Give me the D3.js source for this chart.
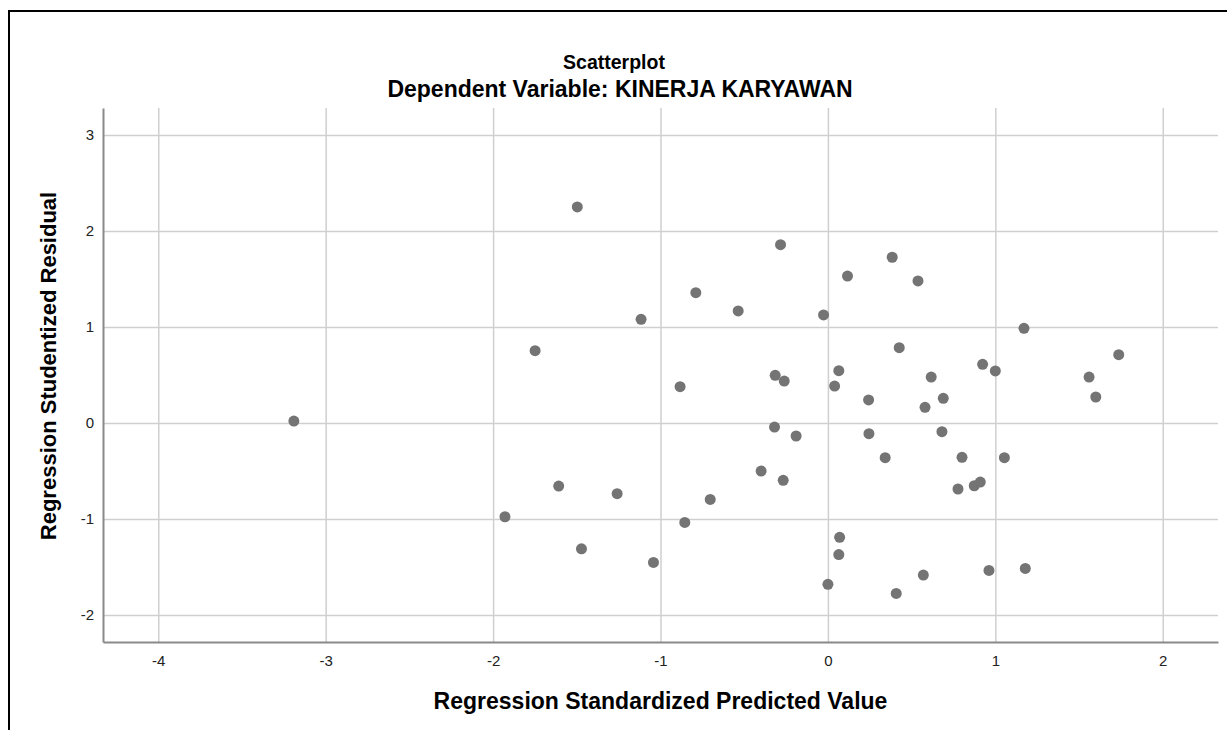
<!DOCTYPE html>
<html>
<head>
<meta charset="utf-8">
<script src="https://cdn.jsdelivr.net/npm/d3@7"></script>
<style>
    body { margin: 0; background: #fff; }
    text { font-family: Arial, "Liberation Sans", Helvetica, sans-serif; }
</style>
</head>
<body>
<div id="chart"></div>
<script>

// predicted value (x) and studentized residual (y)
const predicted = [-3.19, -1.497, -1.749, -1.116, -0.789, -0.536, -0.026, -0.283, -0.883, -0.315,
    -0.261, 0.040, 0.065, -0.319, -0.19, -0.399, -0.267, -0.703, -1.259, -1.608,
    -1.929, -0.855, -1.472, -1.042, 0.07, 0.065, 0.0, 1.171, 0.426, 1.737,
    0.924, 1.0, 0.617, 1.56, 0.243, 0.689, 0.58, 1.60, 0.245, 0.681,
    0.342, 0.801, 1.054, 0.777, 0.874, 0.910, 0.408, 0.570, 0.962, 1.179,
    0.117, 0.384, 0.538];
const residual = [0.02, 2.25, 0.753, 1.08, 1.357, 1.167, 1.125, 1.857, 0.378, 0.497,
    0.437, 0.385, 0.545, -0.042, -0.135, -0.5, -0.597, -0.795, -0.736, -0.656,
    -0.976, -1.035, -1.31, -1.451, -1.19, -1.37, -1.68, 0.986, 0.785, 0.712,
    0.611, 0.542, 0.479, 0.479, 0.24, 0.257, 0.163, 0.271, -0.111, -0.090,
    -0.361, -0.357, -0.361, -0.687, -0.653, -0.615, -1.774, -1.583, -1.535, -1.514,
    1.53, 1.726, 1.479];

const xTicks = [-4, -3, -2, -1, 0, 1, 2];
const yTicks = [-2, -1, 0, 1, 2, 3];
const xDomain = [-4.33, 2.33];
const yDomain = [-2.28, 3.28];

const titleText = "Scatterplot";
const subtitleText = "Dependent Variable: KINERJA KARYAWAN";
const xLabel = "Regression Standardized Predicted Value";
const yLabel = "Regression Studentized Residual";

const W = 1227, H = 730;
var margin = {top: 108, right: 9, bottom: 88, left: 103},
    width = W - margin.left - margin.right,
    height = H - margin.top - margin.bottom;

const data = predicted.map((d, i) => ({x: d, y: residual[i]}));

var svg = d3.select("#chart").append("svg")
    .attr("width", W)
    .attr("height", H);

// outer frame (only left and top edges are visible in the crop)
svg.append("path")
    .attr("d", "M9," + H + "V11H" + W)
    .attr("fill", "none")
    .attr("stroke", "#000")
    .attr("stroke-width", 2);

var g = svg.append("g")
    .attr("transform", "translate(" + margin.left + "," + margin.top + ")");

const x = d3.scaleLinear().domain(xDomain).range([0, width]);
const y = d3.scaleLinear().domain(yDomain).range([height, 0]);

// grid
g.append("g")
    .attr("class", "grid")
    .attr("transform", "translate(0," + height + ")")
    .call(d3.axisBottom(x).tickValues(xTicks).tickSize(-height).tickFormat(""))
    .call(s => s.select(".domain").remove());
g.append("g")
    .attr("class", "grid")
    .call(d3.axisLeft(y).tickValues(yTicks).tickSize(-width).tickFormat(""))
    .call(s => s.select(".domain").remove());
g.selectAll(".grid line")
    .attr("stroke", "#cfcfcf")
    .attr("stroke-width", 1.5);

// axes (plain hyphen minus like SPSS, not the unicode minus)
const fmt = d => String(d);
var xAxis = g.append("g")
    .attr("transform", "translate(0," + height + ")")
    .call(d3.axisBottom(x).tickValues(xTicks).tickSize(0).tickPadding(13).tickFormat(fmt));
var yAxis = g.append("g")
    .call(d3.axisLeft(y).tickValues(yTicks).tickSize(0).tickPadding(9).tickFormat(fmt));

[xAxis, yAxis].forEach(a => {
    a.select(".domain")
        .attr("stroke", "#8a8a8a")
        .attr("stroke-width", 2);
    a.selectAll("text")
        .attr("font-size", 15)
        .attr("fill", "#222")
        .style("font-family", "Arial, 'Liberation Sans', sans-serif");
});

// points
g.selectAll("circle.pt")
    .data(data)
    .enter().append("circle")
    .attr("class", "pt")
    .attr("cx", d => x(d.x))
    .attr("cy", d => y(d.y))
    .attr("r", 5.5)
    .attr("fill", "#747474");

// titles
svg.append("text")
    .attr("x", 614)
    .attr("y", 69)
    .attr("text-anchor", "middle")
    .attr("font-size", 19.5)
    .attr("font-weight", "bold")
    .text(titleText);

svg.append("text")
    .attr("x", 620)
    .attr("y", 97)
    .attr("text-anchor", "middle")
    .attr("font-size", 23)
    .attr("font-weight", "bold")
    .text(subtitleText);

svg.append("text")
    .attr("x", margin.left + width / 2)
    .attr("y", 709)
    .attr("text-anchor", "middle")
    .attr("font-size", 23)
    .attr("font-weight", "bold")
    .text(xLabel);

svg.append("text")
    .attr("transform", "translate(56," + 366 + ") rotate(-90)")
    .attr("text-anchor", "middle")
    .attr("font-size", 22)
    .attr("font-weight", "bold")
    .text(yLabel);

</script>
</body>
</html>
